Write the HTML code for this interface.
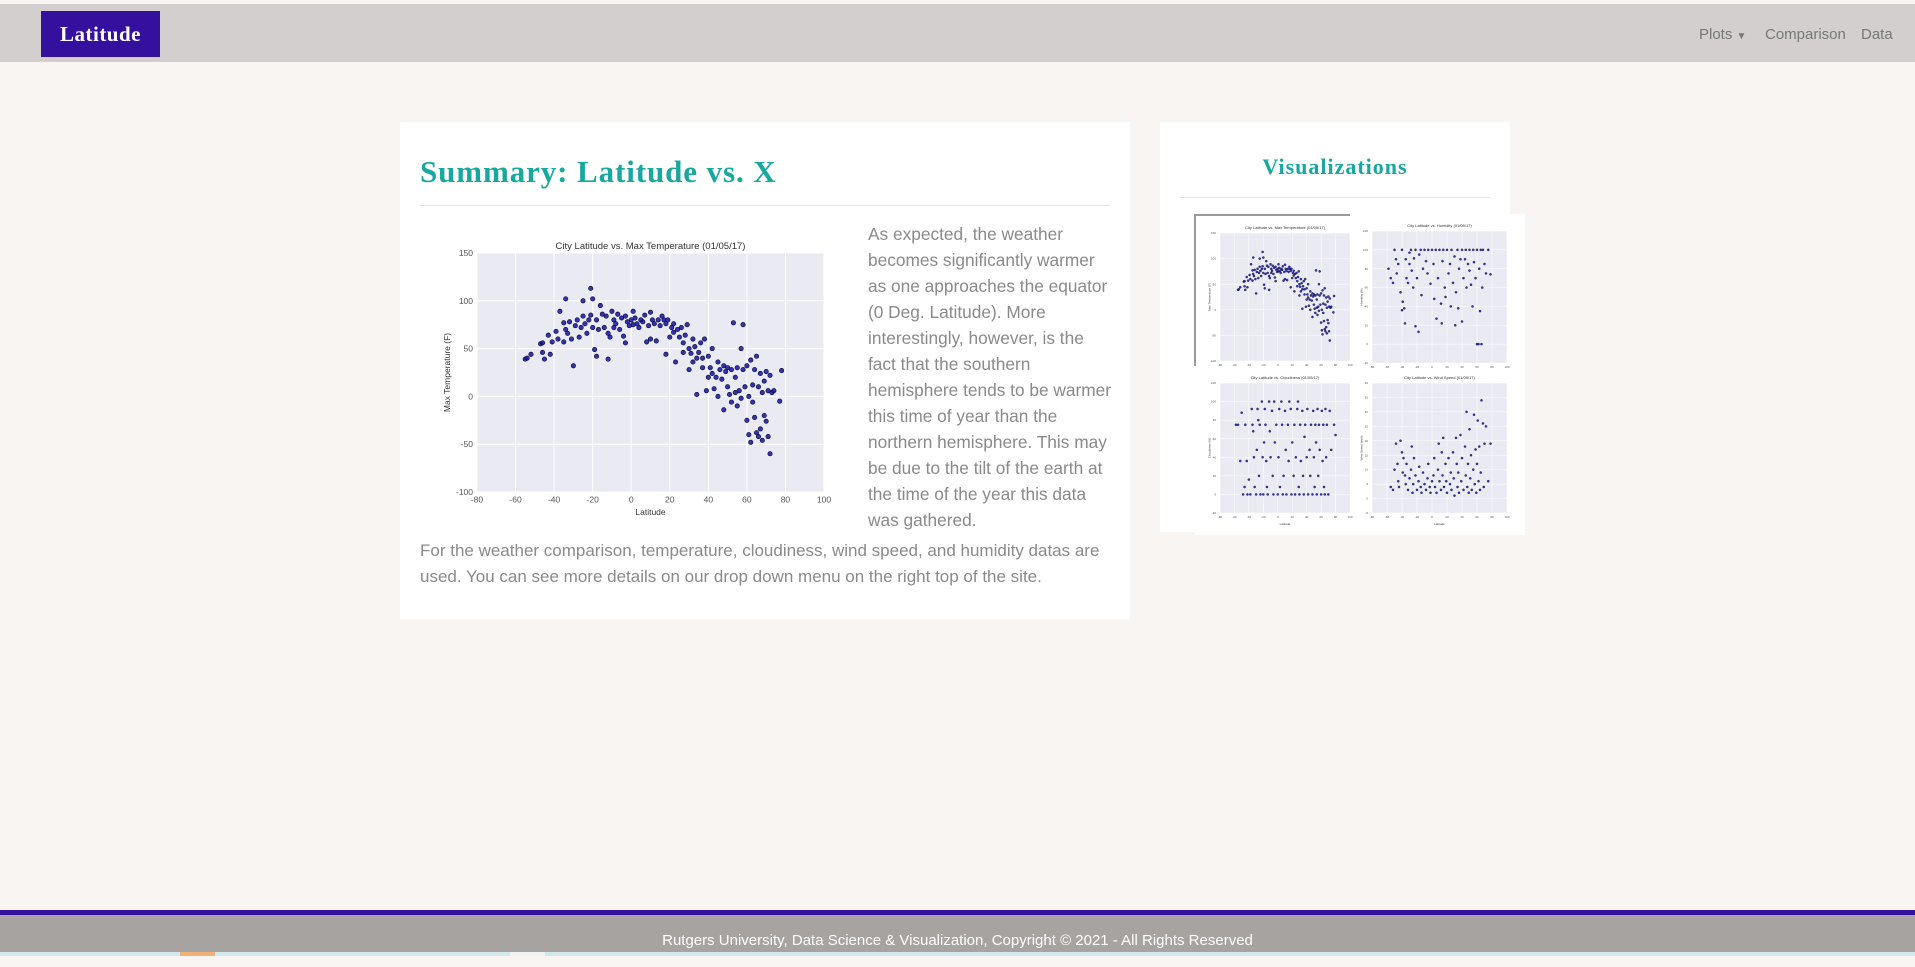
<!DOCTYPE html>
<html><head><meta charset="utf-8"><style>
body{margin:0;width:1915px;height:956px;background:#f9f5f2;position:relative;overflow:hidden;font-family:"Liberation Sans",sans-serif}
.abs{position:absolute}
#nav{left:0;top:4px;width:1915px;height:58px;background:#d3cfcf}
#brand{left:41px;top:11px;width:119px;height:46px;background:#35109f;color:#fff;font:bold 21px "Liberation Serif",serif;letter-spacing:0.5px;text-align:center;line-height:46px}
.nl{top:26px;font-size:15px;color:#777}
#card{left:400px;top:122px;width:730px;height:497px;background:#fff}
#vcard{left:1160px;top:122px;width:350px;height:410px;background:#fff}
h1{margin:0;position:absolute;left:420px;top:154px;font:bold 31px "Liberation Serif",serif;letter-spacing:0.9px;color:#18a8a0}
.p{color:#8a8a8a;font-size:17.3px;line-height:26px}
#foot{left:0;top:915px;width:1915px;height:37px;background:#a7a3a1;color:#fff;font-size:15px;text-align:center;line-height:52px}
</style></head><body>
<div class="abs" id="nav"></div>
<div class="abs" id="brand">Latitude</div>
<div class="abs nl" style="left:1699px">Plots <span style="font-size:10px">&#9660;</span></div>
<div class="abs nl" style="left:1765px">Comparison</div>
<div class="abs nl" style="left:1861px">Data</div>
<div class="abs" id="card"></div>
<h1>Summary: Latitude vs. X</h1>
<div class="abs" style="left:420px;top:205px;width:690px;height:1px;background:#e3e3e3"></div>
<div class="abs p" style="left:868px;top:221px">As expected, the weather<br>becomes significantly warmer<br>as one approaches the equator<br>(0 Deg. Latitude). More<br>interestingly, however, is the<br>fact that the southern<br>hemisphere tends to be warmer<br>this time of year than the<br>northern hemisphere. This may<br>be due to the tilt of the earth at<br>the time of the year this data<br>was gathered.</div>
<div class="abs p" style="left:420px;top:538px;font-size:17px">For the weather comparison, temperature, cloudiness, wind speed, and humidity datas are<br>used. You can see more details on our drop down menu on the right top of the site.</div>
<div class="abs" id="vcard"></div>
<div class="abs" style="left:1160px;top:154px;width:350px;text-align:center;font:bold 22px 'Liberation Serif',serif;letter-spacing:1px;color:#18a8a0">Visualizations</div>
<div class="abs" style="left:1180px;top:197px;width:310px;height:1px;background:#e3e3e3"></div>
<div class="abs" style="left:1195px;top:214px;width:330px;height:321px;background:#fff"></div>
<div class="abs" style="left:0;top:910px;width:1915px;height:5px;background:#35109f"></div>
<div class="abs" id="foot">Rutgers University, Data Science &amp; Visualization, Copyright © 2021 - All Rights Reserved</div>
<div class="abs" style="left:0;top:952px;width:1915px;height:4px;background:#d3e7ee"></div>
<div class="abs" style="left:180px;top:952px;width:35px;height:4px;background:#f0b07a"></div>
<div class="abs" style="left:510px;top:952px;width:35px;height:4px;background:#f3f3f3"></div>
<svg id="svg" class="abs" style="left:0;top:0" width="1915" height="956" xmlns="http://www.w3.org/2000/svg"></svg>
<script>
const tempLat=[-55,-54,-52,-47,-46,-46,-45,-43,-42,-41,-39,-38,-37,-35,-35,-34,-34,-33,-32,-31,-30,-29,-28,-27,-26,-25,-25,-24,-23,-22,-21,-21,-20,-20,-19,-18,-18,-17,-16,-15,-14,-13,-12,-12,-11,-10,-9,-9,-8,-7,-6,-5,-4,-3,-3,-2,-1,0,1,1,2,3,4,5,6,7,8,9,10,10,11,12,13,14,15,16,17,18,18,19,20,21,22,22,23,24,25,26,27,27,28,29,30,30,31,32,32,33,34,34,35,36,37,37,38,39,40,40,41,42,42,43,44,45,45,46,47,48,48,49,50,50,51,52,52,53,54,54,55,55,56,57,57,58,58,59,60,60,61,61,62,62,63,63,64,64,65,65,66,66,67,67,68,68,69,69,70,70,71,71,72,72,73,74,77,78];
const tempVal=[39,40,44,55,56,46,39,64,44,57,68,60,89,77,57,102,70,66,78,60,32,74,80,62,72,100,84,76,66,80,113,85,102,72,49,42,80,70,95,86,72,84,39,66,62,89,80,72,76,86,70,82,63,56,84,78,74,80,89,75,82,76,72,80,78,85,57,74,88,60,80,76,58,80,74,84,80,76,44,80,62,72,76,67,36,70,62,72,46,56,64,75,50,28,45,60,36,52,40,2,46,56,30,40,60,6,42,20,30,24,50,8,20,36,0,28,18,-14,32,26,30,10,2,28,-6,77,20,4,-10,30,6,50,-2,75,28,10,-25,32,-40,0,-48,38,12,-6,-22,28,-38,42,10,-42,-34,24,-46,4,-20,16,-26,26,-42,6,-60,22,4,6,-5,27];
const humLat=[-58,-55,-52,-50,-48,-47,-45,-42,-40,-40,-39,-37,-36,-35,-34,-32,-30,-30,-28,-27,-25,-24,-22,-22,-20,-18,-17,-15,-14,-12,-10,-8,-6,-5,-2,0,2,3,5,6,8,10,12,13,14,15,17,18,20,22,24,25,26,28,30,31,32,34,35,36,38,40,40,42,44,45,46,48,50,50,52,54,55,56,58,60,60,62,63,64,65,66,67,68,70,72,75,78];
const humVal=[80,70,65,100,90,75,85,55,100,36,45,38,22,90,70,65,97,85,100,78,60,91,100,19,70,13,95,100,52,80,100,88,75,100,64,100,85,48,100,27,70,100,43,22,88,100,60,50,100,75,85,40,100,65,93,20,55,100,38,80,90,100,24,70,90,100,60,85,100,78,63,40,100,87,70,100,0,0,80,35,100,0,60,100,85,75,100,74];
const cloudLat=[-58,-55,-52,-50,-48,-46,-45,-43,-42,-40,-38,-36,-35,-34,-33,-32,-30,-29,-28,-27,-26,-25,-24,-22,-21,-20,-19,-18,-17,-16,-15,-14,-12,-11,-10,-8,-7,-6,-5,-4,-2,0,1,2,3,5,6,7,8,10,11,12,14,15,16,18,19,20,22,23,24,25,27,28,29,30,31,32,34,35,36,37,38,40,41,42,44,45,46,48,49,50,51,52,53,54,55,56,57,58,60,61,62,63,64,65,66,67,68,70,72,74,78,80];
const cloudVal=[75,75,36,88,0,8,75,36,0,16,0,92,75,68,40,8,0,48,92,80,20,75,0,100,40,0,56,92,75,36,8,0,100,68,40,90,20,0,100,56,75,0,40,92,8,100,75,0,20,90,48,0,75,36,100,92,0,56,20,75,0,40,92,100,8,0,75,36,90,20,0,62,75,40,92,0,48,20,75,0,90,40,8,75,56,0,92,20,75,48,0,90,36,75,8,0,92,40,75,0,90,48,75,64];
const windLat=[-55,-52,-50,-48,-46,-45,-44,-42,-40,-39,-38,-36,-35,-34,-32,-30,-28,-27,-26,-25,-24,-22,-20,-18,-17,-15,-14,-12,-10,-8,-6,-5,-3,-2,0,2,3,4,6,8,9,10,12,13,14,15,16,18,19,20,22,24,25,26,28,29,30,32,33,34,35,36,38,39,40,42,44,45,46,47,48,49,50,51,52,53,55,56,57,58,59,60,61,62,63,64,65,66,68,69,70,72,75,78];
const windVal=[4,3,10,19,12,6,4,20,16,9,14,8,5,12,3,7,10,18,2,5,14,8,3,6,11,4,2,9,5,3,7,12,4,2,6,8,14,4,2,10,19,6,3,16,8,21,4,12,6,2,14,5,9,3,16,7,1,21,12,4,9,2,22,6,14,3,18,8,30,4,12,2,24,7,15,3,10,29,5,17,2,12,27,6,18,3,9,34,26,4,19,25,6,19];
const xTicks=[-80,-60,-40,-20,0,20,40,60,80,100];
const tempTicks=[-100,-50,0,50,100,150];
const thumbTempTicks=[-100,-50,0,50,100,150];
const pctTicks=[-20,0,20,40,60,80,100,120];
const windTicks=[-5,0,5,10,15,20,25,30,35,40];

const svg=document.getElementById('svg');
const NS='http://www.w3.org/2000/svg';
function mk(tag,attrs,parent){const e=document.createElementNS(NS,tag);for(const k in attrs)e.setAttribute(k,attrs[k]);(parent||svg).appendChild(e);return e;}
function scale(d0,d1,r0,r1){return v=>r0+(v-d0)/(d1-d0)*(r1-r0);}

function chart(o){
  const g=mk('g',{});
  
  
  const xs=scale(o.xd[0],o.xd[1],o.x0,o.x1), ys=scale(o.yd[0],o.yd[1],o.y1,o.y0);
  const bg=mk('rect',{x:o.x0,y:o.y0,width:o.x1-o.x0,height:o.y1-o.y0,fill:'#eaeaf2'},g);
  
  
  o.xt.forEach(t=>{const x=xs(t);mk('line',{x1:x,x2:x,y1:o.y0,y2:o.y1,stroke:'#fff','stroke-width':o.gw},g);
    const tx=mk('text',{x:x,y:o.y1+o.fs+2,'font-size':o.fs,'text-anchor':'middle',fill:'#555'},g);tx.textContent=t;
    });
  o.yt.forEach(t=>{const y=ys(t);mk('line',{x1:o.x0,x2:o.x1,y1:y,y2:y,stroke:'#fff','stroke-width':o.gw},g);
    const tx=mk('text',{x:o.x0-4,y:y+o.fs*0.35,'font-size':o.fs,'text-anchor':'end',fill:'#555'},g);tx.textContent=t;
    });
  o.xs.forEach((v,i)=>{const c=mk('circle',{cx:xs(v),cy:ys(o.ys[i]),r:o.r,fill:'#1414a0','fill-opacity':0.85,stroke:'#0a0a40','stroke-width':o.r*0.3},g);
    });
  const t=mk('text',{x:(o.x0+o.x1)/2,y:o.y0-4,'font-size':o.fs+1,'text-anchor':'middle',fill:'#333'},g);t.textContent=o.title;
  
  if(o.xl){const a=mk('text',{x:(o.x0+o.x1)/2,y:o.y1+o.fs*2+6,'font-size':o.fs,'text-anchor':'middle',fill:'#333'},g);a.textContent=o.xl;
    }
  if(o.yl){const yx=o.x0-o.fs*3.2,yy=(o.y0+o.y1)/2;const a=mk('text',{x:yx,y:yy,'font-size':o.fs,'text-anchor':'middle',fill:'#333',transform:`rotate(-90 ${yx} ${yy})`},g);a.textContent=o.yl;
    }
}
chart({name:'main-temperature-chart',x0:477,x1:824,y0:253,y1:492,xd:[-80,100],yd:[-100,150],xt:xTicks,yt:tempTicks,xs:tempLat,ys:tempVal,r:2.2,fs:8.5,gw:1,title:'City Latitude vs. Max Temperature (01/05/17)',xl:'Latitude',yl:'Max Temperature (F)'});
mk('line',{x1:1195,x2:1195,y1:214,y2:366,stroke:'#999','stroke-width':2});
mk('line',{x1:1195,x2:1350,y1:215,y2:215,stroke:'#999','stroke-width':2});
chart({name:'thumb-temperature',x0:1220,x1:1350,y0:233,y1:361,xd:[-80,100],yd:[-100,150],xt:xTicks,yt:thumbTempTicks,xs:tempLat,ys:tempVal,r:1.1,fs:3,gw:0.5,title:'City Latitude vs. Max Temperature (01/05/17)',yl:'Max Temperature (F)'});
chart({name:'thumb-humidity',x0:1372,x1:1507,y0:231,y1:363,xd:[-80,100],yd:[-20,120],xt:xTicks,yt:pctTicks,xs:humLat,ys:humVal,r:1.1,fs:3,gw:0.5,title:'City Latitude vs. Humidity (01/05/17)',yl:'Humidity (%)'});
chart({name:'thumb-cloudiness',x0:1220,x1:1350,y0:383,y1:513,xd:[-80,100],yd:[-20,120],xt:xTicks,yt:pctTicks,xs:cloudLat,ys:cloudVal,r:1.1,fs:3,gw:0.5,title:'City Latitude vs. Cloudiness (01/05/17)',xl:'Latitude',yl:'Cloudiness (%)'});
chart({name:'thumb-wind-speed',x0:1372,x1:1507,y0:383,y1:513,xd:[-80,100],yd:[-5,40],xt:xTicks,yt:windTicks,xs:windLat,ys:windVal,r:1.1,fs:3,gw:0.5,title:'City Latitude vs. Wind Speed (01/05/17)',xl:'Latitude',yl:'Wind Speed (mph)'});
</script>
</body></html>
